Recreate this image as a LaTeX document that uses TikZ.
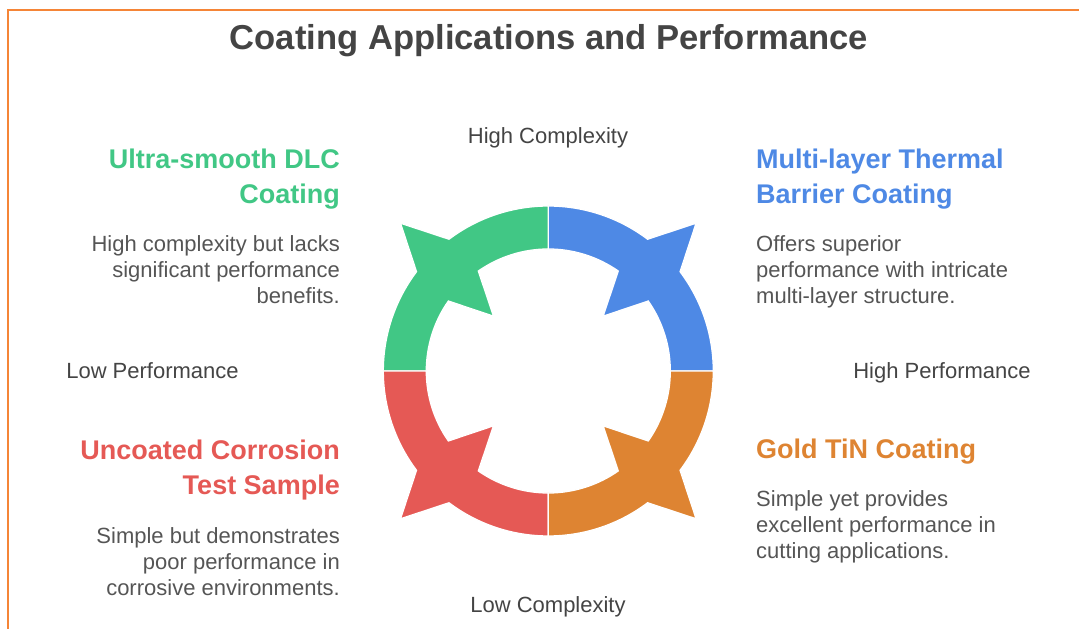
\documentclass[tikz,border=0pt]{standalone}
\usepackage{fontspec}
\setmainfont{Liberation Sans}

\definecolor{dlcgreen}{RGB}{65,199,133}
\definecolor{barrierblue}{RGB}{78,137,229}
\definecolor{tinorange}{RGB}{222,132,50}
\definecolor{rawred}{RGB}{229,89,85}
\definecolor{framecol}{RGB}{245,133,55}
\definecolor{titlegray}{RGB}{68,68,68}
\definecolor{bodygray}{RGB}{85,85,85}

\begin{document}
\begin{tikzpicture}[
  x=1pt, y=1pt,
  title/.style={font=\bfseries\fontsize{34.6}{40}\selectfont, text=titlegray, inner sep=0},
  heading/.style={font=\bfseries\fontsize{27}{35}\selectfont, inner sep=0},
  body/.style={font=\fontsize{22}{26}\selectfont, text=bodygray, inner sep=0},
  axis/.style={font=\fontsize{22}{26}\selectfont, text=titlegray, inner sep=0}]
\useasboundingbox (0,0) rectangle (1079,629);
\draw[framecol, line width=2pt] (8,-10) |- (1100,618.5);

\node[title, anchor=base] (title) at (549,579) {Coating Applications and Performance};

% ring of four arrows
\begin{scope}[shift={(548.3,258)}]
\foreach \a/\col in {0/barrierblue, 90/dlcgreen, 180/rawred, 270/tinorange} {
  \pgfmathsetmacro\m{\a+45}
  \filldraw[fill=\col, draw=white, line width=1.3pt]
    (\a:165) arc[start angle=\a, end angle=\m-8, radius=165]
    -- (\m:209) -- ({\m+8}:165) arc[start angle=\m+8, end angle=\a+90, radius=165]
    -- ({\a+90}:122) arc[start angle=\a+90, end angle=\m+10, radius=122]
    -- (\m:77.5) -- ({\m-10}:122) arc[start angle=\m-10, end angle=\a, radius=122]
    -- cycle;
}
\end{scope}

% axis labels
\node[axis, anchor=base] (hicplx) at (548,485.5) {High Complexity};
\node[axis, anchor=base] (locplx) at (548,16) {Low Complexity};
\node[axis, anchor=base] (loperf) at (152.5,250.5) {Low Performance};
\node[axis, anchor=base] (hiperf) at (942,250.5) {High Performance};

% quadrant texts (base = last line)
\node[heading, text=dlcgreen, align=right, anchor=base east] (dlc) at (340,425.7)
  {Ultra-smooth DLC\\Coating};
\node[body, align=right, anchor=base east] (dlctxt) at (340,325.3)
  {High complexity but lacks\\significant performance\\benefits.};

\node[heading, text=barrierblue, align=left, anchor=base west] (tbc) at (756,425.7)
  {Multi-layer Thermal\\Barrier Coating};
\node[body, align=left, anchor=base west] (tbctxt) at (756,325.3)
  {Offers superior\\performance with intricate\\multi-layer structure.};

\node[heading, text=rawred, align=right, anchor=base east] (raw) at (340,134)
  {Uncoated Corrosion\\Test Sample};
\node[body, align=right, anchor=base east] (rawtxt) at (340,33.7)
  {Simple but demonstrates\\poor performance in\\corrosive environments.};

\node[heading, text=tinorange, align=left, anchor=base west] (tin) at (756,170.7)
  {Gold TiN Coating};
\node[body, align=left, anchor=base west] (tintxt) at (756,70.3)
  {Simple yet provides\\excellent performance in\\cutting applications.};
\end{tikzpicture}
\end{document}
